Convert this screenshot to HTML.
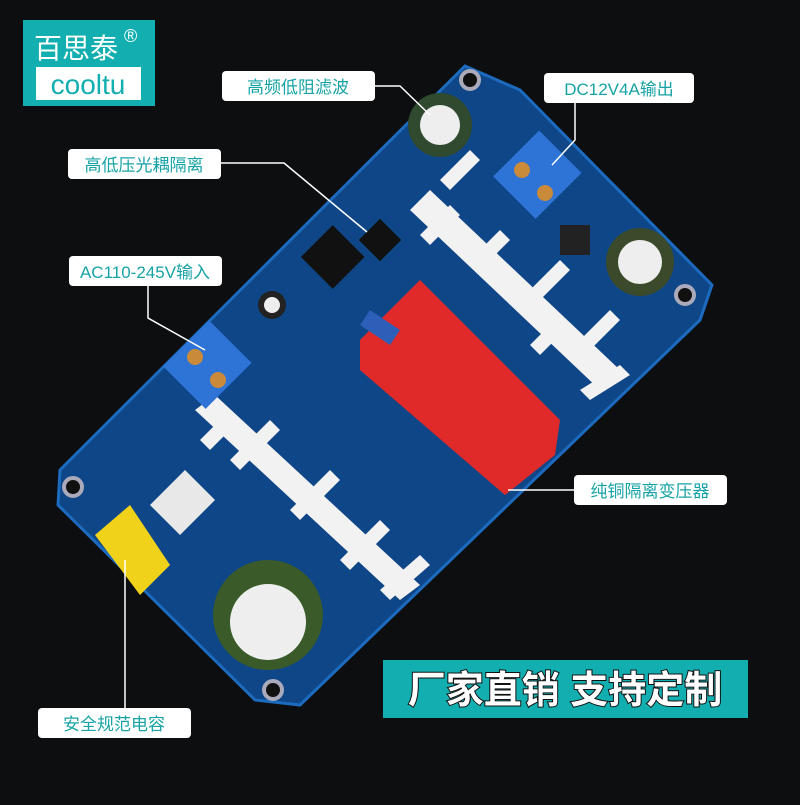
<!DOCTYPE html>
<html><head><meta charset="utf-8"><style>
body{margin:0;background:#0d0e10;}
.t{font-family:"Liberation Sans","Noto Sans CJK SC",sans-serif;}
</style></head><body>
<svg width="800" height="800" viewBox="0 0 800 800" xmlns="http://www.w3.org/2000/svg">
<rect width="800" height="800" fill="#0d0e10"/>
<rect x="23" y="20" width="132" height="86" fill="#13aeb0"/>
<text x="34" y="58" class="t" font-size="28" fill="#fff">百思泰</text>
<text x="124" y="42" class="t" font-size="18" fill="#fff">®</text>
<rect x="36" y="67" width="105" height="33" fill="#fff"/>
<text x="88" y="94" class="t" font-size="28" fill="#13aeb0" text-anchor="middle">cooltu</text>
<polygon points="465,66 520,90 712,285 700,320 300,705 255,700 58,505 60,470" fill="#0e4687"/>
<polygon points="465,66 520,90 712,285 700,320 300,705 255,700 58,505 60,470" fill="none" stroke="#1c6bbf" stroke-width="3"/>
<circle cx="470" cy="80" r="9" fill="#111" stroke="#aab" stroke-width="4"/>
<circle cx="685" cy="295" r="9" fill="#111" stroke="#aab" stroke-width="4"/>
<circle cx="73" cy="487" r="9" fill="#111" stroke="#aab" stroke-width="4"/>
<circle cx="273" cy="690" r="9" fill="#111" stroke="#aab" stroke-width="4"/>
<g fill="#f2f2f2">
<polygon points="410,210 600,390 620,370 430,190"/>
<polygon points="440,180 470,150 480,160 450,190"/>
<polygon points="470,260 500,230 510,240 480,270"/>
<polygon points="520,300 560,260 570,270 530,310"/>
<polygon points="570,350 610,310 620,320 580,360"/>
<polygon points="420,235 450,205 460,215 430,245"/>
<polygon points="530,345 560,315 570,325 540,355"/>
<polygon points="580,390 620,365 630,375 590,400"/>
<polygon points="195,410 400,600 420,585 215,395"/>
<polygon points="230,460 270,420 280,430 240,470"/>
<polygon points="290,510 330,470 340,480 300,520"/>
<polygon points="340,560 380,520 390,530 350,570"/>
<polygon points="200,440 230,410 240,420 210,450"/>
<polygon points="380,590 420,555 430,565 390,600"/>
</g>
<polygon points="360,340 420,280 560,420 555,455 505,495 360,370" fill="#e02a2a"/>
<rect x="505" y="145" width="65" height="60" fill="#2e74d6" transform="rotate(-45 537 175)"/>
<circle cx="522" cy="170" r="8" fill="#c98a3a"/><circle cx="545" cy="193" r="8" fill="#c98a3a"/>
<rect x="175" y="335" width="65" height="60" fill="#2e74d6" transform="rotate(-45 207 365)"/>
<circle cx="195" cy="357" r="8" fill="#c98a3a"/><circle cx="218" cy="380" r="8" fill="#c98a3a"/>
<circle cx="440" cy="125" r="32" fill="#2f4a2f"/><circle cx="440" cy="125" r="20" fill="#eee"/>
<circle cx="640" cy="262" r="34" fill="#3a4a2a"/><circle cx="640" cy="262" r="22" fill="#eee"/>
<circle cx="268" cy="615" r="55" fill="#3a5a2a"/><circle cx="268" cy="622" r="38" fill="#eee"/>
<circle cx="272" cy="305" r="14" fill="#222"/><circle cx="272" cy="305" r="8" fill="#eee"/>
<polygon points="95,535 130,505 170,565 140,595" fill="#f1d21a"/>
<polygon points="150,505 185,470 215,500 180,535" fill="#e8e8e8"/>
<rect x="310" y="235" width="45" height="45" fill="#111" transform="rotate(-45 332 257)"/>
<rect x="365" y="225" width="30" height="30" fill="#111" transform="rotate(-45 380 240)"/>
<rect x="560" y="225" width="30" height="30" fill="#222"/>
<polygon points="370,310 400,330 390,345 360,325" fill="#2d5fb8"/>
<g class="t" font-size="17" fill="#17a3a6">
<rect x="222" y="71" width="153" height="30" rx="4" fill="#fff"/>
<text x="298" y="93" text-anchor="middle">高频低阻滤波</text>
<rect x="68" y="149" width="153" height="30" rx="4" fill="#fff"/>
<text x="144" y="171" text-anchor="middle">高低压光耦隔离</text>
<rect x="69" y="256" width="153" height="30" rx="4" fill="#fff"/>
<text x="145" y="278" text-anchor="middle">AC110-245V输入</text>
<rect x="544" y="73" width="150" height="30" rx="4" fill="#fff"/>
<text x="619" y="95" text-anchor="middle">DC12V4A输出</text>
<rect x="574" y="475" width="153" height="30" rx="4" fill="#fff"/>
<text x="650" y="497" text-anchor="middle">纯铜隔离变压器</text>
<rect x="38" y="708" width="153" height="30" rx="4" fill="#fff"/>
<text x="114" y="730" text-anchor="middle">安全规范电容</text>
</g>
<g stroke="#fff" stroke-width="1.5" fill="none">
<polyline points="375,86 400,86 430,115"/>
<polyline points="221,163 284,163 367,232"/>
<polyline points="148,286 148,318 205,350"/>
<polyline points="575,103 575,140 552,165"/>
<polyline points="574,490 508,490"/>
<polyline points="125,708 125,560"/>
</g>
<rect x="383" y="660" width="365" height="58" fill="#13aeb0"/>
<text x="565" y="703" class="t" font-size="38" font-weight="bold" fill="#fff" text-anchor="middle" stroke="#111" stroke-width="2" paint-order="stroke">厂家直销 支持定制</text>
</svg>
</body></html>
